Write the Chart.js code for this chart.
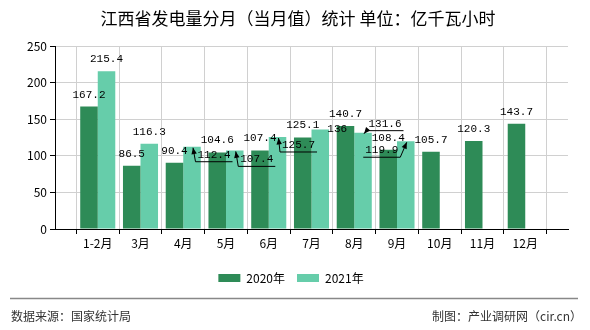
<!DOCTYPE html>
<html>
<head>
<meta charset="utf-8">
<script src="https://cdn.jsdelivr.net/npm/chart.js@4.4.1/dist/chart.umd.min.js"></script>
<style>
  html, body { margin: 0; padding: 0; background: #fff; }
  #wrap { width: 590px; height: 330px; }
</style>
</head>
<body>
<div id="wrap"><canvas id="chart" width="590" height="330"></canvas></div>
<script>
const months = ['1-2月', '3月', '4月', '5月', '6月', '7月', '8月', '9月', '10月', '11月', '12月'];
const gen2020 = [167.2, 86.5, 90.4, 104.6, 107.4, 125.1, 140.7, 108.4, 105.7, 120.3, 143.7];
const gen2021 = [215.4, 116.3, 112.4, 107.4, 125.7, 136, 131.6, 119.9, null, null, null];
const seriesNames = ['2020年', '2021年'];
const titleText = '江西省发电量分月（当月值）统计 单位：亿千瓦小时';

// axis runs edge to edge, so pad one empty slot on each side
const labels = [''].concat(months, ['']);
const pad = arr => [null].concat(arr, [null]);

// labels that the original pushed aside: [dx, dy, leader line]
const labelMoves = {
  '2021年|4月': [22, 20, true],
  '2021年|5月': [22, 21, true],
  '2021年|6月': [21, 20, true],
  '2021年|7月': [17, 12, false],
  '2021年|8月': [22, 3, true],
  '2021年|9月': [-24, 21, true]
};

const valueLabels = {
  id: 'valueLabels',
  afterDatasetsDraw(chart) {
    const ctx = chart.ctx;
    ctx.save();
    ctx.font = '11px "Liberation Mono", monospace';
    ctx.fillStyle = '#000';
    ctx.strokeStyle = '#000';
    ctx.textAlign = 'center';
    ctx.textBaseline = 'middle';
    chart.data.datasets.forEach((ds, di) => {
      chart.getDatasetMeta(di).data.forEach((bar, i) => {
        const v = ds.data[i];
        if (v == null) return;
        const txt = String(v);
        const mv = labelMoves[ds.label + '|' + labels[i]];
        let x = bar.x, y = bar.y - 12;
        if (mv) { x += mv[0]; y += mv[1]; }
        ctx.fillText(txt, x, y);
        if (mv && mv[2]) {
          const w = ctx.measureText(txt).width;
          const uy = y + 7;
          const x0 = x - w / 2 - 2, x1 = x + w / 2 + 2;
          const sx = mv[0] > 0 ? x0 : x1;
          const tx = bar.x + 1, ty = bar.y + 1;
          ctx.lineWidth = 1;
          ctx.beginPath();
          ctx.moveTo(x1, uy); ctx.lineTo(x0, uy);
          ctx.moveTo(sx, uy); ctx.lineTo(tx, ty);
          ctx.stroke();
          const a = Math.atan2(ty - uy, tx - sx);
          ctx.beginPath();
          ctx.moveTo(tx, ty);
          ctx.lineTo(tx - 7 * Math.cos(a - 0.4), ty - 7 * Math.sin(a - 0.4));
          ctx.lineTo(tx - 7 * Math.cos(a + 0.4), ty - 7 * Math.sin(a + 0.4));
          ctx.closePath();
          ctx.fill();
        }
      });
    });
    ctx.restore();
  }
};

const frameText = {
  id: 'frameText',
  afterDraw(chart) {
    const ctx = chart.ctx;
    ctx.save();
    // title
    ctx.font = '17px "Noto Sans CJK SC", sans-serif';
    ctx.fillStyle = '#000';
    ctx.textAlign = 'center';
    ctx.textBaseline = 'middle';
    ctx.fillText(titleText, 298, 18.5);
    // footer rule and sources
    ctx.strokeStyle = '#888';
    ctx.lineWidth = 1.5;
    ctx.beginPath();
    ctx.moveTo(10, 298.5); ctx.lineTo(578, 298.5);
    ctx.stroke();
    ctx.font = '12px "Noto Sans CJK SC", sans-serif';
    ctx.fillStyle = '#333';
    ctx.textAlign = 'left';
    ctx.fillText('数据来源：国家统计局', 11, 316);
    ctx.textAlign = 'right';
    ctx.fillText('制图：产业调研网（cir.cn）', 582, 316);
    ctx.restore();
  }
};

new Chart(document.getElementById('chart'), {
  type: 'bar',
  data: {
    labels: labels,
    datasets: [
      { label: seriesNames[0], data: pad(gen2020), backgroundColor: '#2E8B57' },
      { label: seriesNames[1], data: pad(gen2021), backgroundColor: '#66CDAA' }
    ]
  },
  options: {
    responsive: false,
    animation: false,
    categoryPercentage: 0.82,
    barPercentage: 1,
    layout: { padding: { top: 46, left: 14, right: 22, bottom: 36 } },
    plugins: {
      title: { display: false },
      legend: {
        position: 'bottom',
        labels: {
          boxWidth: 22, boxHeight: 8, padding: 12, color: '#000',
          font: { size: 12, family: '"Noto Sans CJK SC", sans-serif' }
        }
      },
      tooltip: { enabled: false }
    },
    scales: {
      x: {
        offset: false,
        grid: { color: '#d0d0d0', tickColor: '#000', tickLength: 5 },
        border: { color: '#000', width: 1 },
        ticks: {
          color: '#000', autoSkip: false, maxRotation: 0, padding: 2,
          font: { size: 12, family: '"Noto Sans CJK SC", sans-serif' }
        },
        afterFit: s => { s.height = 31; }
      },
      y: {
        min: 0, max: 250,
        grid: { color: '#d0d0d0', tickColor: '#000', tickLength: 5 },
        border: { color: '#000', width: 1 },
        ticks: {
          stepSize: 50, color: '#000', padding: 3,
          font: { size: 12, family: '"Noto Sans CJK SC", sans-serif' }
        },
        afterFit: s => { s.width = 41; }
      }
    }
  },
  plugins: [valueLabels, frameText]
});
</script>
</body>
</html>
